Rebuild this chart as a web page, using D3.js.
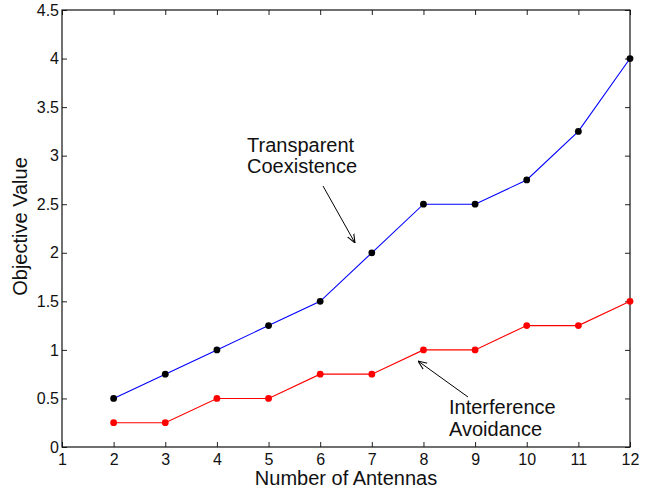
<!DOCTYPE html>
<html>
<head>
<meta charset="utf-8">
<script src="https://cdn.jsdelivr.net/npm/d3@7"></script>
<style>
  html, body { margin: 0; padding: 0; background: #fff; }
  svg { display: block; font-family: "Liberation Sans", Arial, sans-serif; }
</style>
</head>
<body>
<svg id="chart" width="647" height="491"></svg>
<script>
// Antenna counts and objective values for the two schemes
const antennas = [2, 3, 4, 5, 6, 7, 8, 9, 10, 11, 12];
const transparentCoexistence = [0.5, 0.75, 1, 1.25, 1.5, 2, 2.5, 2.5, 2.75, 3.25, 4];
const interferenceAvoidance = [0.25, 0.25, 0.5, 0.5, 0.75, 0.75, 1, 1, 1.25, 1.25, 1.5];
const xTicks = [1, 2, 3, 4, 5, 6, 7, 8, 9, 10, 11, 12];
const yTicks = [0, 0.5, 1, 1.5, 2, 2.5, 3, 3.5, 4, 4.5];

const svg = d3.select("#chart");
const plotLeft = 62, plotRight = 630, plotTop = 10, plotBottom = 447;

const x = d3.scaleLinear().domain([1, 12]).range([plotLeft, plotRight]);
const y = d3.scaleLinear().domain([0, 4.5]).range([plotBottom, plotTop]);

const tickLen = 5;
const fontSize = 16;
const labelSize = 20;

// Inward ticks on all four sides
const axes = svg.append("g");
axes.append("g").attr("transform", `translate(0,${plotBottom})`)
  .call(d3.axisBottom(x).tickValues(xTicks).tickFormat(d3.format("d")).tickSizeInner(-tickLen).tickSizeOuter(0).tickPadding(7));
axes.append("g").attr("transform", `translate(0,${plotTop})`)
  .call(d3.axisTop(x).tickValues(xTicks).tickFormat("").tickSizeInner(-tickLen).tickSizeOuter(0));
axes.append("g").attr("transform", `translate(${plotLeft},0)`)
  .call(d3.axisLeft(y).tickValues(yTicks).tickFormat(d => String(d)).tickSizeInner(-tickLen).tickSizeOuter(0).tickPadding(3));
axes.append("g").attr("transform", `translate(${plotRight},0)`)
  .call(d3.axisRight(y).tickValues(yTicks).tickFormat("").tickSizeInner(-tickLen).tickSizeOuter(0));

axes.selectAll(".domain").remove();
axes.selectAll("line").attr("stroke", "#222").attr("stroke-width", 1);
axes.selectAll("text").attr("font-size", fontSize).attr("fill", "#111")
  .attr("font-family", "'Liberation Sans', Arial, sans-serif");

// Frame
svg.append("rect")
  .attr("x", plotLeft).attr("y", plotTop)
  .attr("width", plotRight - plotLeft).attr("height", plotBottom - plotTop)
  .attr("fill", "none").attr("stroke", "#111").attr("stroke-width", 1.2);

// Series
const series = [
  { values: transparentCoexistence, line: "#0000ff", marker: "#000000" },
  { values: interferenceAvoidance, line: "#ff0000", marker: "#ff0000" }
];
const lineGen = d3.line().x((d, i) => x(antennas[i])).y(d => y(d));

series.forEach(s => {
  svg.append("path").datum(s.values)
    .attr("d", lineGen)
    .attr("fill", "none").attr("stroke", s.line).attr("stroke-width", 1.1);
  svg.append("g").selectAll("circle").data(s.values).join("circle")
    .attr("cx", (d, i) => x(antennas[i])).attr("cy", d => y(d))
    .attr("r", 3.4).attr("fill", s.marker);
});

// Axis titles
svg.append("text").attr("x", (plotLeft + plotRight) / 2).attr("y", 485)
  .attr("text-anchor", "middle").attr("font-size", labelSize).attr("fill", "#111")
  .text("Number of Antennas");
svg.append("text")
  .attr("transform", `translate(27,${(plotTop + plotBottom) / 2 - 2}) rotate(-90)`)
  .attr("text-anchor", "middle").attr("font-size", labelSize).attr("fill", "#111")
  .text("Objective Value");

// Annotations with arrows
const defs = svg.append("defs");
defs.append("marker").attr("id", "arrow")
  .attr("viewBox", "0 0 10 10").attr("refX", 10).attr("refY", 5)
  .attr("markerWidth", 9).attr("markerHeight", 9).attr("orient", "auto")
  .attr("markerUnits", "userSpaceOnUse")
  .append("path").attr("d", "M0,1 L10,5 L0,9").attr("fill", "none")
  .attr("stroke", "#000").attr("stroke-width", 1.2);

function note(lines, tx, ty, from, to) {
  const t = svg.append("text").attr("x", tx).attr("y", ty)
    .attr("font-size", labelSize).attr("fill", "#111");
  lines.forEach((l, i) => t.append("tspan").attr("x", tx).attr("dy", i === 0 ? 0 : 21.5).text(l));
  svg.append("line")
    .attr("x1", from[0]).attr("y1", from[1]).attr("x2", to[0]).attr("y2", to[1])
    .attr("stroke", "#000").attr("stroke-width", 1).attr("marker-end", "url(#arrow)");
}

note(["Transparent", "Coexistence"], 247, 151.5, [323, 186], [355, 243]);
note(["Interference", "Avoidance"], 449, 414, [468, 397], [418, 361]);
</script>
</body>
</html>
